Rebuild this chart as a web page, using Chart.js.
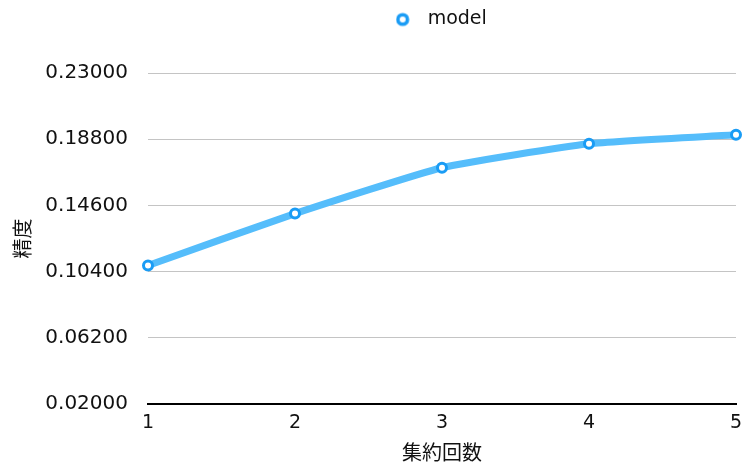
<!DOCTYPE html>
<html>
<head>
<meta charset="utf-8">
<script src="https://cdn.jsdelivr.net/npm/chart.js@4"></script>
<style>
  html, body { margin: 0; padding: 0; background: #fff; }
  #wrap { width: 744px; height: 465px; }
</style>
</head>
<body>
<div id="wrap"><canvas id="c"></canvas></div>
<script>
const rounds = ['1', '2', '3', '4', '5'];
const accuracy = [0.1079, 0.1408, 0.1699, 0.1851, 0.1908];
const yTicks = [0.02, 0.062, 0.104, 0.146, 0.188, 0.23];

const LINE_COLOR = '#55bdfb';
const POINT_COLOR = '#1a9cf5';
const FONT = '"DejaVu Sans", "Noto Sans CJK JP", sans-serif';
const JP_FONT = '"Noto Sans CJK JP", sans-serif';

// Legend marker: hollow circle sitting a little left of the label text.
function legendMarker() {
  const c = document.createElement('canvas');
  c.width = 26; c.height = 18;
  const g = c.getContext('2d');
  g.beginPath();
  g.arc(7, 9, 4.8, 0, Math.PI * 2);
  g.fillStyle = '#fff';
  g.fill();
  g.lineWidth = 3.6;
  g.strokeStyle = POINT_COLOR;
  g.stroke();
  return c;
}
const marker = legendMarker();

// Extra gap under the legend, and legend centred over the plot area.
const legendLayout = {
  id: 'legendLayout',
  beforeUpdate(chart) {
    const lg = chart.legend;
    if (lg && !lg._gapPatched) {
      const fit = lg.fit.bind(lg);
      lg.fit = function () { fit(); this.height += 34; };
      lg._gapPatched = true;
    }
  },
  afterLayout(chart) {
    const lg = chart.legend, area = chart.chartArea;
    if (lg && area) {
      lg.left = area.left + 1;
      lg.right = area.right + 1;
      lg.width = area.right - area.left;
    }
  }
};

new Chart(document.getElementById('c'), {
  type: 'line',
  data: {
    labels: rounds,
    datasets: [{
      label: 'model',
      data: accuracy,
      borderColor: LINE_COLOR,
      borderWidth: 7,
      tension: 0.15,
      pointRadius: 4.5,
      pointBorderWidth: 3,
      pointBackgroundColor: '#ffffff',
      pointBorderColor: POINT_COLOR,
      pointStyle: 'circle'
    }]
  },
  plugins: [legendLayout],
  options: {
    responsive: true,
    maintainAspectRatio: false,
    animation: false,
    layout: { padding: { left: 0, right: 0, top: 0, bottom: 0 } },
    plugins: {
      legend: {
        display: true,
        position: 'top',
        labels: {
          usePointStyle: true,
          boxWidth: 19,
          boxHeight: 12,
          padding: 10,
          color: '#111',
          font: { family: FONT, size: 19 },
          generateLabels: (chart) =>
            Chart.defaults.plugins.legend.labels.generateLabels(chart)
              .map(item => Object.assign(item, { pointStyle: marker }))
        }
      },
      tooltip: { enabled: false }
    },
    scales: {
      x: {
        type: 'category',
        offset: false,
        grid: { display: true, color: 'rgba(0,0,0,0)', drawTicks: false },
        border: { display: true, color: '#000', width: 2 },
        ticks: { color: '#111', padding: 8, font: { family: FONT, size: 19 } },
        title: { display: true, text: '集約回数', color: '#111', padding: { top: 5, bottom: 1 }, font: { family: JP_FONT, size: 20 } },
        afterFit: (s) => { s.height = 61; s.paddingLeft = 0; s.paddingRight = 8; }
      },
      y: {
        min: 0.02,
        max: 0.23,
        afterBuildTicks: (scale) => { scale.ticks = yTicks.map(v => ({ value: v })); },
        grid: { color: '#c4c4c4', lineWidth: 1, drawTicks: false },
        border: { display: false },
        ticks: {
          color: '#111',
          padding: 20,
          font: { family: FONT, size: 20 },
          callback: (v) => Number(v).toFixed(5)
        },
        title: { display: true, text: '精度', color: '#111', padding: { top: 10, bottom: 0 }, font: { family: JP_FONT, size: 20 } },
        afterFit: (s) => { s.width = 148; }
      }
    }
  }
});
</script>
</body>
</html>
